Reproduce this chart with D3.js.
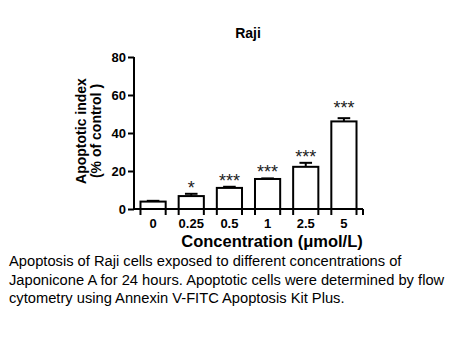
<!DOCTYPE html>
<style>
body { margin: 0; background: white; }
text { font-family: "Liberation Sans", Arial, sans-serif; }
</style>
<svg width="454" height="340"></svg>
<script src="https://d3js.org/d3.v7.min.js"></script>
<script>
var categories = ["0", "0.25", "0.5", "1", "2.5", "5"];
var values = [3.9, 6.8, 11.1, 15.8, 22.2, 46.1];
var errors = [0.4, 1.2, 0.6, 0.3, 2.1, 1.7];
var stars = ["", "*", "***", "***", "***", "***"];
var yTicks = [0, 20, 40, 60, 80];
var caption = [
  "Apoptosis of Raji cells exposed to different concentrations of",
  "Japonicone A for 24 hours. Apoptotic cells were determined by flow",
  "cytometry using Annexin V-FITC Apoptosis Kit Plus."
];

var svg = d3.select("svg");

var x = d3.scaleBand()
    .domain(categories)
    .range([134, 363])
    .paddingInner(0.34)
    .paddingOuter(0.17);

var y = d3.scaleLinear()
    .domain([0, 80])
    .range([209, 57]);

// title
svg.append("text")
  .attr("x", 248).attr("y", 38)
  .attr("text-anchor", "middle")
  .style("font-weight", "bold").style("font-size", "14px")
  .text("Raji");

// bars
var g = svg.selectAll("g.bar")
  .data(categories)
  .enter().append("g").attr("class", "bar");

g.append("rect")
  .attr("x", function(d) { return x(d); })
  .attr("y", function(d, i) { return y(values[i]); })
  .attr("width", x.bandwidth())
  .attr("height", function(d, i) { return y(0) - y(values[i]); })
  .attr("fill", "white").attr("stroke", "black").attr("stroke-width", 2);

// error bars (upper only)
g.append("line")
  .attr("x1", function(d) { return x(d) + x.bandwidth() / 2; })
  .attr("x2", function(d) { return x(d) + x.bandwidth() / 2; })
  .attr("y1", function(d, i) { return y(values[i]); })
  .attr("y2", function(d, i) { return y(values[i] + errors[i]); })
  .attr("stroke", "black").attr("stroke-width", 2);

g.append("line")
  .attr("x1", function(d) { return x(d) + x.bandwidth() / 4; })
  .attr("x2", function(d) { return x(d) + x.bandwidth() * 3 / 4; })
  .attr("y1", function(d, i) { return y(values[i] + errors[i]); })
  .attr("y2", function(d, i) { return y(values[i] + errors[i]); })
  .attr("stroke", "black").attr("stroke-width", 2);

g.append("text")
  .attr("x", function(d) { return x(d) + x.bandwidth() / 2; })
  .attr("y", function(d, i) { return y(values[i] + errors[i]) + (i == 5 ? -4 : 0); })
  .attr("text-anchor", "middle")
  .style("font-size", "18px")
  .attr("fill", "#222")
  .text(function(d, i) { return stars[i]; });

// y axis
var yAxis = svg.append("g")
  .attr("transform", "translate(134,0)")
  .call(d3.axisLeft(y).tickValues(yTicks).tickSize(6).tickPadding(2));
yAxis.select(".domain").attr("stroke-width", 2).attr("d", "M0," + (y(0) + 1) + "V" + y(80));
yAxis.selectAll(".tick line").attr("stroke-width", 2);
yAxis.selectAll(".tick text")
  .style("font-size", "13px").style("font-weight", "bold")
  .style("font-family", "Liberation Sans, Arial, sans-serif").attr("fill", "black");

// x axis line with ticks at bar edges
var xAxis = svg.append("g").attr("transform", "translate(0," + y(0) + ")");
xAxis.append("line")
  .attr("x1", 133).attr("x2", 363)
  .attr("stroke", "black").attr("stroke-width", 2);
var edges = [];
categories.forEach(function(c) { edges.push(x(c), x(c) + x.bandwidth()); });
edges.push(363);
xAxis.selectAll("line.tk").data(edges).enter().append("line").attr("class", "tk")
  .attr("x1", function(d) { return d; }).attr("x2", function(d) { return d; })
  .attr("y1", 0).attr("y2", 6)
  .attr("stroke", "black").attr("stroke-width", 2);
xAxis.selectAll("text").data(categories).enter().append("text")
  .attr("x", function(d) { return x(d) + x.bandwidth() / 2; })
  .attr("y", 19)
  .attr("text-anchor", "middle")
  .style("font-size", "13px").style("font-weight", "bold")
  .text(function(d) { return d; });

// axis titles
svg.append("text")
  .attr("transform", "translate(86,131) rotate(-90)")
  .attr("text-anchor", "middle")
  .style("font-size", "14px").style("font-weight", "bold")
  .text("Apoptotic index");
svg.append("text")
  .attr("transform", "translate(101,131) rotate(-90)")
  .attr("text-anchor", "middle")
  .style("font-size", "14px").style("font-weight", "bold")
  .text("(% of control )");

svg.append("text")
  .attr("x", 272).attr("y", 247)
  .attr("text-anchor", "middle")
  .style("font-size", "16.5px").style("font-weight", "bold")
  .text("Concentration (\u03bcmol/L)");

// caption
svg.selectAll("text.cap").data(caption).enter().append("text").attr("class", "cap")
  .attr("x", 9)
  .attr("y", function(d, i) { return 266 + i * 18.5; })
  .style("font-size", "14.7px")
  .text(function(d) { return d; });
</script>
